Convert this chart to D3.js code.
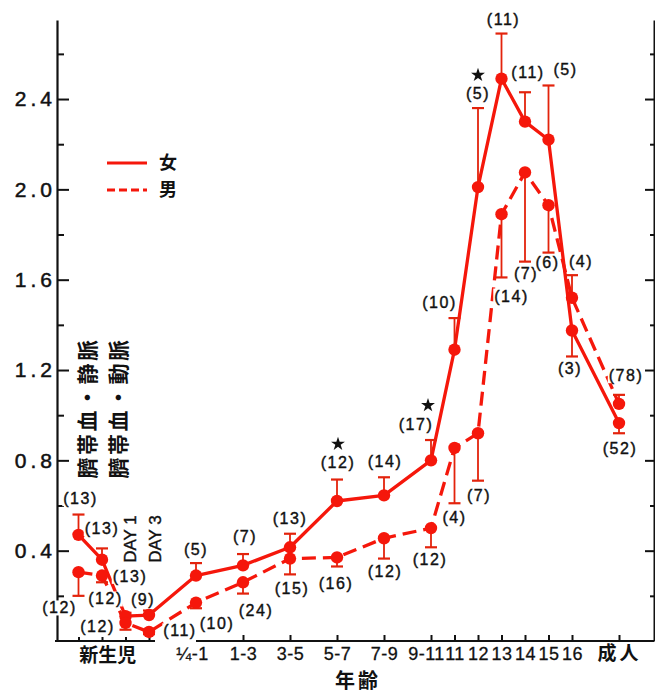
<!DOCTYPE html>
<html><head><meta charset="utf-8">
<script src="https://cdnjs.cloudflare.com/ajax/libs/d3/7.8.5/d3.min.js"></script>
<style>
html,body{margin:0;padding:0;background:#fff;}
svg{display:block;}
</style></head>
<body>
<script>
// ---------- DATA ----------
const categories = ["臍帯血・静脈","臍帯血・動脈","DAY 1","DAY 3","¼-1","1-3","3-5","5-7","7-9","9-11","11","12","13","14","15","16","成人"];
// position of each category along the age axis (years; newborn samples sit left of ¼-1)
const slots = [-5,-4,-3,-2,0,2,4,6,8,10,11,12,13,14,15,16,18];
const axisLabels = ["¼-1","1-3","3-5","5-7","7-9","9-11","11","12","13","14","15","16","成人"];
const axisSlots  = [0,2,4,6,8,10,11,12,13,14,15,16,18];
const newbornSlots = [-5,-4,-3,-2];

const femaleMean = [0.47,0.36,0.11,0.115,0.29,0.335,0.415,0.62,0.645,0.80,1.29,2.01,2.49,2.30,2.22,1.375,0.965];
const femaleBar  = [0.56,0.41,0.125,0.135,0.345,0.385,0.475,0.715,0.725,0.89,1.43,2.36,2.69,2.43,2.46,1.26,0.92];
const femaleN    = [13,13,12,9,5,7,13,12,14,17,10,5,11,11,5,3,52];
const maleMean   = [0.305,0.29,0.08,0.04,0.17,0.26,0.365,0.37,0.455,0.50,0.855,0.92,1.89,2.075,1.93,1.52,1.05];
const maleBar    = [0.20,0.26,0.05,0.03,0.145,0.21,0.295,0.33,0.365,0.415,0.61,0.71,1.61,1.68,1.72,1.62,1.09];
const maleN      = [12,13,12,11,10,24,15,16,12,12,4,7,14,7,6,4,78];
const starIndex  = [7,9,11];   // significant differences (female series)

const yMajor = [0.4,0.8,1.2,1.6,2.0,2.4];
const yMinor = [0.2,0.6,1.0,1.4,1.8,2.2,2.6];
const legendLabels = ["女","男"];

// ---------- LAYOUT (label placement offsets, px) ----------
const fLabDx = [2,0,-20,-6,0,2,0,1,1,-15,-15,0,2,3,17,-2,1];
const fLabDy = [-35,-30,-16,-14,-25,-28,-28,-37,-33,-35,-46,-92,-58,-48,-69,39,27];
const mLabDx = [-19,28,-28,31,21,13,2,-1,1,-1,0,1,10,1,-1,9,7];
const mLabDy = [37,2,5,0,22,29,31,27,34,33,71,63,83,102,59,-35,-27];

const W = 655, H = 694;
const RED = "#f5170b";
const BAR = "#e3230c";
const INK = "#111";

const svg = d3.select("body").append("svg").attr("width", W).attr("height", H)
  .style("font-family", "'Liberation Sans', Arial, sans-serif");
svg.append("rect").attr("width", W).attr("height", H).attr("fill", "#fff");

const x = d3.scaleLinear().domain([0, 18]).range([196, 619]);
const y = d3.scaleLinear().domain([0, 2.75]).range([641, 20]);
const X0 = 57, XR = 654;

// ---------- AXES ----------
const gy = svg.append("g").attr("transform", `translate(${X0},0)`);
gy.call(d3.axisLeft(y).tickValues(yMajor).tickSizeInner(-12).tickSizeOuter(0).tickPadding(1)
  .tickFormat(d3.format(".1f")));
gy.select(".domain").attr("stroke", INK).attr("stroke-width", 2.2);
gy.selectAll(".tick line").attr("stroke", INK).attr("stroke-width", 2);
gy.selectAll(".tick text").attr("font-size", 21).attr("letter-spacing", 4).attr("fill", INK)
  .attr("stroke", INK).attr("stroke-width", 0.5)
  .attr("font-family", "'Liberation Sans', Arial, sans-serif");
const gyMin = svg.append("g").attr("transform", `translate(${X0},0)`);
gyMin.call(d3.axisLeft(y).tickValues(yMinor).tickSizeInner(-7).tickSizeOuter(0).tickFormat(""));
gyMin.select(".domain").remove();
gyMin.selectAll(".tick line").attr("stroke", INK).attr("stroke-width", 2);

const gr = svg.append("g").attr("transform", `translate(${XR},0)`);
gr.call(d3.axisRight(y).tickValues(yMajor).tickSizeInner(-9).tickSizeOuter(0).tickFormat(""));
gr.select(".domain").attr("stroke", INK).attr("stroke-width", 2);
gr.selectAll(".tick line").attr("stroke", INK).attr("stroke-width", 2);
const grMin = svg.append("g").attr("transform", `translate(${XR},0)`);
grMin.call(d3.axisRight(y).tickValues(yMinor).tickSizeInner(-4).tickSizeOuter(0).tickFormat(""));
grMin.select(".domain").remove();
grMin.selectAll(".tick line").attr("stroke", INK).attr("stroke-width", 2);

// baseline (broken between newborn block and ¼-1)
const base = y(0);
svg.append("line").attr("x1", X0 - 2).attr("x2", x(newbornSlots[3]) + 6).attr("y1", base).attr("y2", base)
  .attr("stroke", INK).attr("stroke-width", 2.2);
svg.append("line").attr("x1", x(axisSlots[0])).attr("x2", XR).attr("y1", base).attr("y2", base)
  .attr("stroke", INK).attr("stroke-width", 2.2);

const gx = svg.append("g").attr("transform", `translate(0,${base})`);
gx.call(d3.axisBottom(x).tickValues(axisSlots).tickSizeInner(-6).tickSizeOuter(0).tickPadding(6)
  .tickFormat((d, i) => axisLabels[i]));
gx.select(".domain").remove();
gx.selectAll(".tick line").attr("stroke", INK).attr("stroke-width", 2)
  .attr("display", d => d === axisSlots[0] ? "none" : null);
gx.selectAll(".tick text").attr("font-size", 18).attr("letter-spacing", 0.5).attr("fill", INK)
  .attr("stroke", INK).attr("stroke-width", 0.3)
  .attr("font-family", "'Liberation Sans', 'Noto Sans CJK JP', sans-serif");
gx.selectAll(".tick text").filter(d => d === 18).attr("letter-spacing", 3).attr("font-weight", 700)
  .attr("stroke", null).attr("font-size", 19);
gx.selectAll(".tick text").filter(d => d === 0).attr("dx", -4);
gx.selectAll(".tick text").filter(d => d === 10).attr("dx", -5);

const gn = svg.append("g").attr("transform", `translate(0,${base})`);
gn.call(d3.axisBottom(x).tickValues(newbornSlots).tickSizeInner(-4).tickSizeOuter(0).tickFormat(""));
gn.select(".domain").remove();
gn.selectAll(".tick line").attr("stroke", INK).attr("stroke-width", 2);

svg.append("text").attr("x", x(-3.75)).attr("y", base + 21).attr("text-anchor", "middle")
  .attr("font-family", "'Noto Sans CJK JP', sans-serif").attr("font-weight", 700)
  .attr("font-size", 19).attr("fill", INK).text("新生児");
svg.append("text").attr("x", 358).attr("y", base + 47).attr("text-anchor", "middle")
  .attr("font-family", "'Noto Sans CJK JP', sans-serif").attr("font-weight", 700)
  .attr("letter-spacing", 3).attr("font-size", 20).attr("fill", INK).text("年齢");

// ---------- SERIES ----------
const idx = d3.range(categories.length);
const line = vals => d3.line().x(i => x(slots[i])).y(i => y(vals[i]))(idx);

svg.append("path").attr("d", line(femaleMean)).attr("fill", "none").attr("stroke", RED)
  .attr("stroke-width", 3.3).attr("stroke-linejoin", "round");
svg.append("path").attr("d", line(maleMean)).attr("fill", "none").attr("stroke", RED)
  .attr("stroke-width", 3.3).attr("stroke-dasharray", "14,7");

function bars(mean, bar) {
  const g = svg.append("g").attr("stroke", BAR);
  g.selectAll("line.s").data(idx).join("line").attr("class", "s")
    .attr("x1", i => x(slots[i])).attr("x2", i => x(slots[i]))
    .attr("y1", i => y(mean[i])).attr("y2", i => y(bar[i])).attr("stroke-width", 1.8);
  g.selectAll("line.c").data(idx).join("line").attr("class", "c")
    .attr("x1", i => x(slots[i]) - 6).attr("x2", i => x(slots[i]) + 6)
    .attr("y1", i => y(bar[i])).attr("y2", i => y(bar[i])).attr("stroke-width", 2.2);
}
bars(femaleMean, femaleBar);
bars(maleMean, maleBar);

function dots(mean) {
  svg.append("g").selectAll("circle").data(idx).join("circle")
    .attr("cx", i => x(slots[i])).attr("cy", i => y(mean[i])).attr("r", 6.2).attr("fill", RED);
}
dots(femaleMean);
dots(maleMean);

// ---------- N LABELS ----------
function nLabels(mean, ns, dx, dy) {
  idx.forEach(i => {
    const g = svg.append("g");
    const t = g.append("text").attr("x", x(slots[i]) + dx[i]).attr("y", y(mean[i]) + dy[i])
      .attr("dy", "0.27em").attr("text-anchor", "middle").attr("font-size", 16)
      .attr("letter-spacing", 1.5).attr("fill", INK).attr("stroke", INK).attr("stroke-width", 0.4)
      .text(`(${ns[i]})`);
    const b = t.node().getBBox();
    g.insert("rect", "text").attr("x", b.x - 1).attr("y", b.y + 1).attr("width", b.width + 1)
      .attr("height", b.height - 2).attr("fill", "#fff");
  });
}
nLabels(femaleMean, femaleN, fLabDx, fLabDy);
nLabels(maleMean, maleN, mLabDx, mLabDy);

// stars
svg.append("g").selectAll("path").data(starIndex).join("path")
  .attr("d", d3.symbol(d3.symbolStar, 60))
  .attr("transform", i => `translate(${x(slots[i]) + fLabDx[i] + (i === 9 ? 12 : 0)},${y(femaleMean[i]) + fLabDy[i] - 20})`)
  .attr("fill", INK);

// ---------- ANNOTATIONS ----------
[[0, 87], [1, 118]].forEach(([i, cx]) => {
  svg.append("text").attr("transform", `translate(${cx},408) rotate(-90)`)
    .attr("text-anchor", "middle").attr("dy", "0.36em")
    .attr("font-family", "'Noto Sans CJK JP', sans-serif").attr("font-weight", 700)
    .attr("font-size", 21).attr("letter-spacing", 2.5).attr("fill", INK).text(categories[i]);
});
[[2, 130], [3, 155]].forEach(([i, cx]) => {
  svg.append("text").attr("transform", `translate(${cx},539) rotate(-90)`)
    .attr("text-anchor", "middle").attr("dy", "0.36em")
    .attr("font-size", 17).attr("fill", INK).attr("stroke", INK).attr("stroke-width", 0.4)
    .text(categories[i]);
});

// ---------- LEGEND ----------
const lg = svg.append("g");
[0, 1].forEach(k => {
  const ly = 163 + k * 27;
  lg.append("line").attr("x1", 107).attr("x2", 147).attr("y1", ly).attr("y2", ly)
    .attr("stroke", RED).attr("stroke-width", 3).attr("stroke-dasharray", k ? "8,4" : null);
  lg.append("text").attr("x", 159).attr("y", ly).attr("dy", "0.36em")
    .attr("font-family", "'Noto Sans CJK JP', sans-serif").attr("font-weight", 700)
    .attr("font-size", 18).attr("fill", INK).text(legendLabels[k]);
});
</script>
</body></html>
